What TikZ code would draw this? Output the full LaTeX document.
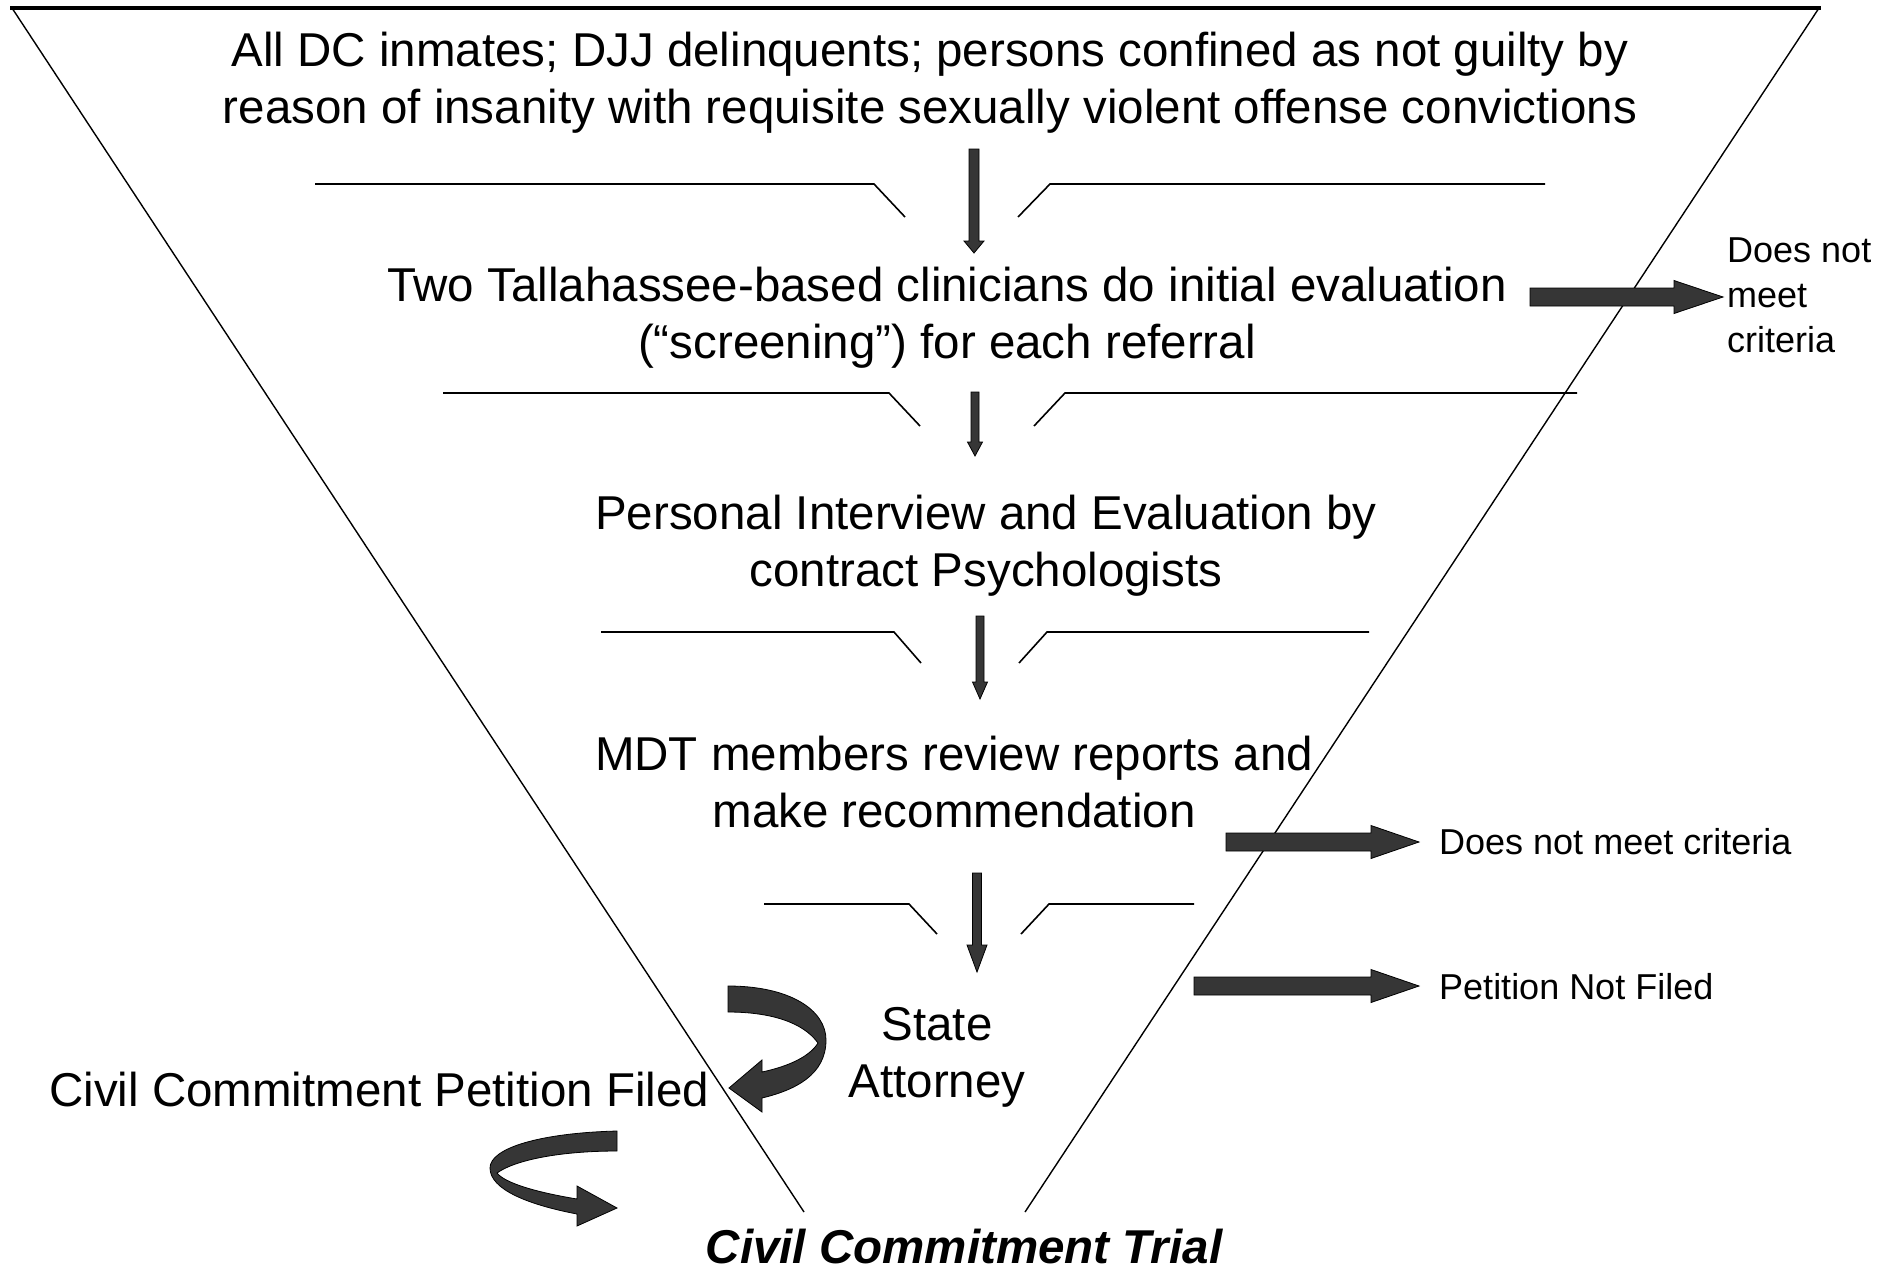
\documentclass[tikz,border=0pt]{standalone}
\usepackage{fontspec}
\setmainfont{Liberation Sans}
\usetikzlibrary{calc}
\definecolor{arrowgray}{HTML}{363636}
% #1 start, #2 tip, #3 shaft half width, #4 head half width, #5 head length
\newcommand{\blockarrowR}[5]{%
  \filldraw[fatarrow] ($(#1)+(0,-#3)$) -- ($(#2)+(-#5,-#3)$) -- ($(#2)+(-#5,-#4)$) -- (#2)
    -- ($(#2)+(-#5,#4)$) -- ($(#2)+(-#5,#3)$) -- ($(#1)+(0,#3)$) -- cycle;}
\newcommand{\blockarrowD}[5]{%
  \filldraw[fatarrow] ($(#1)+(-#3,0)$) -- ($(#2)+(-#3,-#5)$) -- ($(#2)+(-#4,-#5)$) -- (#2)
    -- ($(#2)+(#4,-#5)$) -- ($(#2)+(#3,-#5)$) -- ($(#1)+(#3,0)$) -- cycle;}
\begin{document}
\begin{tikzpicture}[x=1pt,y=-1pt,
  maintext/.style={font=\fontsize{47.5}{57}\selectfont, align=center, inner sep=0pt},
  sidetext/.style={font=\fontsize{36}{45}\selectfont, align=left, inner sep=0pt, anchor=west},
  fatarrow/.style={fill=arrowgray, draw=black, line width=0.8pt, line join=miter},
  bracketline/.style={line width=1.6pt},
  funnelside/.style={line width=1.4pt}]
\useasboundingbox (0,0) rectangle (1895,1272);
\fill[white] (0,0) rectangle (1895,1272);

% funnel
\draw[funnelside] (12,8) -- (804,1212);
\draw[funnelside] (1819,8) -- (1025,1212);
\draw[line width=3.2pt] (10,8) -- (1821,8);

% texts
\node[maintext] (t1) at (930,83) {All DC inmates; DJJ delinquents; persons confined as not guilty by\\reason of insanity with requisite sexually violent offense convictions};
\node[maintext] (t2) at (947,318) {Two Tallahassee-based clinicians do initial evaluation\\(“screening”) for each referral};
\node[maintext] (t3) at (986,546) {Personal Interview and Evaluation by\\contract Psychologists};
\node[maintext] (t4) at (954,782) {MDT members review reports and\\make recommendation};
\node[maintext] (sa) at (937,1057) {State\\Attorney};
\node[maintext, anchor=west] (pf) at (49,1090) {Civil Commitment Petition Filed};
\node[maintext, font=\fontsize{47.5}{57}\selectfont\bfseries\itshape] (trial) at (964,1247) {Civil Commitment Trial};
\node[sidetext] (dnm1) at (1727,295) {Does not\\meet\\criteria};
\node[sidetext] (dnm2) at (1439,842) {Does not meet criteria};
\node[sidetext] (pnf) at (1439,987) {Petition Not Filed};

% bracket lines
\draw[bracketline] (315,184) -- (874,184) -- (905,217);
\draw[bracketline] (1018,217) -- (1050,184) -- (1545,184);
\draw[bracketline] (443,393) -- (889,393) -- (920,426);
\draw[bracketline] (1034,426) -- (1065,393) -- (1577,393);
\draw[bracketline] (601,632) -- (894,632) -- (921,663);
\draw[bracketline] (1019,663) -- (1047,632) -- (1369,632);
\draw[bracketline] (764,904) -- (909,904) -- (937,934);
\draw[bracketline] (1021,934) -- (1049,904) -- (1194,904);

% vertical connectors
\coordinate (a1s) at (974,149); \coordinate (a1e) at (974,253);
\coordinate (a2s) at (975,392); \coordinate (a2e) at (975,456);
\coordinate (a3s) at (980,616); \coordinate (a3e) at (980,699);
\coordinate (a4s) at (977,873); \coordinate (a4e) at (977,972);
\blockarrowD{a1s}{a1e}{5}{10}{12}
\blockarrowD{a2s}{a2e}{4}{7.5}{14}
\blockarrowD{a3s}{a3e}{4}{7.5}{17}
\blockarrowD{a4s}{a4e}{4.5}{10}{27}

% side connectors
\coordinate (r1s) at (1530,297); \coordinate (r1e) at ($(dnm1.west)+(-4,2)$);
\coordinate (r2s) at (1226,842); \coordinate (r2e) at ($(dnm2.west)+(-20,0)$);
\coordinate (r3s) at (1194,986); \coordinate (r3e) at ($(pnf.west)+(-20,-1)$);
\blockarrowR{r1s}{r1e}{9}{16.5}{49}
\blockarrowR{r2s}{r2e}{9}{16.5}{48}
\blockarrowR{r3s}{r3e}{9}{16.5}{48}

% curved arrow: State Attorney -> Petition Filed
\filldraw[fatarrow] (728,986) .. controls (790,986) and (826,1010) .. (826,1040)
  .. controls (826,1075) and (795,1090) .. (762,1098)
  -- (762,1112) -- (729,1088) -- (762,1060) -- (762,1072)
  .. controls (790,1066) and (810,1056) .. (818,1043)
  .. controls (803,1022) and (770,1012) .. (728,1012) -- cycle;

% curved arrow: Petition Filed -> Trial
\filldraw[fatarrow] (617,1131) .. controls (540,1133) and (490,1148) .. (490,1168)
  .. controls (490,1190) and (530,1205) .. (577,1214)
  -- (577,1226) -- (617,1208) -- (577,1186) -- (577,1199)
  .. controls (535,1192) and (505,1183) .. (497,1173)
  .. controls (515,1160) and (560,1151) .. (617,1151) -- cycle;
\end{tikzpicture}
\end{document}
